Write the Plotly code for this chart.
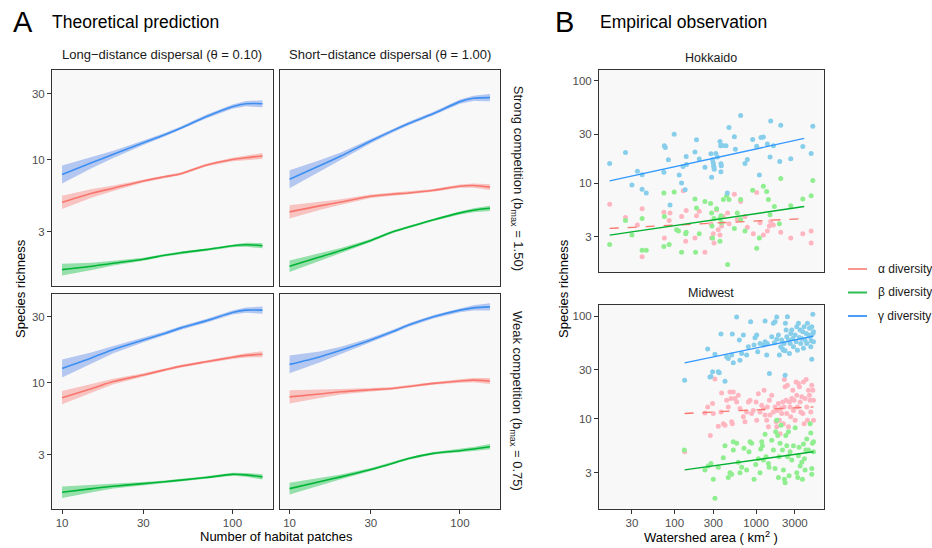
import plotly.graph_objects as go

W, H = 932, 548
FONT = "Liberation Sans, Arial, sans-serif"

# ---------------- Panel A: theoretical prediction ----------------
patches = [10, 15, 20, 30, 40, 50, 70, 100, 120, 150]

# strong competition / long-distance dispersal
sl_alpha = [4.9, 5.7, 6.2, 7.0, 7.5, 7.9, 9.1, 10.0, 10.3, 10.6]
sl_beta = [1.60, 1.69, 1.78, 1.90, 2.03, 2.12, 2.23, 2.38, 2.42, 2.38]
sl_gamma = [7.8, 9.5, 10.9, 13.2, 15.1, 16.9, 20.4, 24.1, 25.3, 25.3]
# strong competition / short-distance dispersal
ss_alpha = [4.18, 4.62, 4.93, 5.42, 5.61, 5.73, 5.99, 6.41, 6.48, 6.31]
ss_beta = [1.69, 1.97, 2.20, 2.60, 2.99, 3.25, 3.67, 4.11, 4.30, 4.44]
ss_gamma = [7.2, 9.0, 10.6, 13.6, 16.1, 18.2, 21.5, 26.2, 27.7, 28.0]
# weak competition / long-distance dispersal
wl_alpha = [7.8, 9.1, 10.2, 11.4, 12.4, 13.2, 14.2, 15.3, 15.8, 16.1]
wl_beta = [1.61, 1.71, 1.78, 1.86, 1.92, 1.97, 2.06, 2.17, 2.15, 2.08]
wl_gamma = [12.7, 15.2, 17.4, 20.4, 22.8, 25.0, 28.1, 32.3, 33.6, 33.6]
# weak competition / short-distance dispersal
ws_alpha = [7.9, 8.3, 8.6, 8.9, 9.1, 9.4, 9.9, 10.3, 10.45, 10.3]
ws_beta = [1.71, 1.92, 2.08, 2.35, 2.60, 2.83, 3.08, 3.22, 3.31, 3.44]
ws_gamma = [13.6, 15.4, 17.2, 20.4, 23.4, 26.2, 30.1, 33.6, 34.9, 35.5]

# confidence band half-widths (log10 units)
alpha_hw = [0.048, 0.030, 0.020, 0.012, 0.010, 0.010, 0.010, 0.012, 0.015, 0.021]
beta_hw = [0.042, 0.026, 0.017, 0.011, 0.009, 0.009, 0.009, 0.011, 0.014, 0.019]
gamma_hw = [0.065, 0.040, 0.026, 0.016, 0.013, 0.013, 0.013, 0.015, 0.019, 0.026]

col_labels = ["Long\u2212distance dispersal (\u03b8 = 0.10)", "Short\u2212distance dispersal (\u03b8 = 1.00)"]
row_labels = ["Strong competition (b<sub>max</sub> = 1.50)", "Weak competition (b<sub>max</sub> = 0.75)"]

# ---------------- Panel B: empirical observation ----------------
# Hokkaido
hk_area_g = [16, 25, 30, 35, 40, 40, 45, 74, 75, 77, 84, 88, 99, 114, 122, 127, 135, 139, 140, 178, 186, 201, 236, 280, 285, 293, 299, 302, 305, 307, 322, 335, 361, 368, 371, 371, 375, 389, 428, 444, 466, 542, 558, 648, 732, 782, 909, 1018, 1099, 1151, 1230, 1377, 1486, 1514, 1633, 1954, 2011, 2667, 3749, 4746, 4977]
hk_gamma = [15.6, 19.9, 9.6, 13.1, 12.1, 8.7, 8.0, 12.8, 23.2, 22.3, 16.9, 6.1, 30.1, 12.0, 10.0, 14.5, 8.6, 18.2, 15.2, 20.2, 26.5, 17.2, 14.3, 19.4, 11.4, 16.9, 15.7, 14.8, 14.3, 13.7, 19.5, 18.0, 25.5, 23.2, 12.9, 15.5, 14.8, 23.3, 23.2, 8.0, 35.0, 28.4, 21.5, 45.8, 15.6, 17.0, 26.7, 23.0, 12.0, 27.9, 28.2, 24.2, 18.0, 40.6, 23.2, 16.3, 36.9, 17.3, 22.8, 19.5, 36.1]
hk_area_b = [16, 25, 30, 40, 40, 45, 74, 74, 75, 86, 99, 106, 112, 122, 137, 139, 178, 181, 186, 201, 236, 277, 285, 288, 293, 305, 328, 361, 361, 371, 378, 397, 436, 448, 466, 542, 589, 648, 648, 732, 909, 1018, 1099, 1230, 1352, 1418, 1486, 1680, 1935, 2011, 2667, 3749, 4746, 4977]
hk_beta = [2.5, 4.3, 3.1, 2.2, 4.5, 2.2, 2.4, 8.0, 4.7, 2.5, 8.2, 3.5, 3.4, 2.1, 3.2, 3.3, 7.0, 2.1, 5.7, 3.2, 6.6, 6.3, 5.1, 3.8, 2.9, 4.5, 5.6, 4.5, 2.7, 4.8, 4.1, 6.9, 7.5, 1.6, 6.9, 3.6, 5.1, 6.9, 4.4, 3.4, 8.5, 2.3, 2.9, 9.3, 8.3, 6.9, 4.9, 5.9, 4.0, 11.1, 6.0, 7.0, 7.5, 10.6]
hk_area_a = [16, 25, 35, 40, 40, 74, 75, 86, 88, 122, 128, 137, 139, 178, 186, 201, 236, 280, 285, 299, 305, 328, 344, 361, 378, 397, 448, 466, 542, 589, 648, 732, 782, 927, 1018, 1120, 1230, 1377, 1459, 1514, 1633, 2011, 2667, 3749, 4746, 4746]
hk_alpha = [6.2, 4.6, 3.9, 5.6, 1.9, 5.2, 2.9, 4.3, 5.1, 4.7, 8.4, 2.7, 5.4, 2.9, 4.8, 5.3, 2.1, 4.0, 2.9, 3.2, 2.6, 5.5, 3.5, 3.1, 3.8, 4.7, 5.1, 4.0, 7.8, 4.4, 6.6, 4.7, 3.7, 3.2, 8.1, 4.1, 3.1, 3.4, 3.8, 4.2, 3.9, 3.3, 2.9, 3.2, 3.4, 2.6]
hk_fit_area = [16, 3900]
hk_fit_alpha = [3.6, 4.5]
hk_fit_beta = [3.1, 5.9]
hk_fit_gamma = [10.5, 27.4]

# Midwest
mw_area_g = [133, 255, 272, 280, 293, 313, 344, 354, 371, 416, 436, 457, 502, 512, 526, 578, 624, 635, 667, 699, 767, 805, 859, 945, 972, 1019, 1048, 1120, 1230, 1291, 1291, 1352, 1377, 1459, 1559, 1633, 1680, 1713, 1795, 1795, 1882, 1935, 2011, 2068, 2128, 2168, 2209, 2274, 2274, 2294, 2339, 2383, 2427, 2500, 2570, 2618, 2667, 2746, 2825, 2878, 3020, 3105, 3162, 3221, 3314, 3411, 3475, 3540, 3640, 3749, 3819, 3891, 4000, 4120, 4198, 4276, 4397, 4525, 4613, 4699, 4746, 4831, 4831, 4977, 4977, 5070, 5070]
mw_gamma = [23.8, 47.7, 25.6, 25.8, 28.7, 42.6, 28.7, 28.1, 66.8, 23.3, 40.2, 38.7, 41.7, 66.8, 35.1, 97.8, 58.4, 37.2, 43.3, 65.3, 41.7, 50.3, 88.0, 52.2, 61.5, 65.3, 44.9, 54.2, 52.2, 89.4, 56.3, 41.7, 54.2, 27.7, 62.9, 84.9, 55.0, 88.0, 97.8, 59.3, 65.3, 41.7, 50.3, 58.4, 47.7, 46.6, 54.2, 45.9, 26.6, 84.9, 73.1, 62.9, 98.5, 58.4, 43.3, 54.2, 67.8, 73.1, 60.6, 50.3, 65.3, 56.3, 78.8, 46.6, 84.9, 62.0, 73.1, 54.2, 60.6, 70.4, 48.5, 78.8, 58.4, 67.8, 54.2, 84.9, 65.3, 75.9, 62.9, 50.3, 57.5, 38.1, 78.8, 104.0, 67.8, 56.3, 70.4]
mw_area_a = [133, 236, 255, 275, 293, 299, 313, 344, 371, 378, 397, 416, 436, 457, 479, 493, 502, 512, 526, 552, 578, 606, 635, 699, 732, 767, 805, 844, 884, 927, 1000, 1019, 1068, 1120, 1175, 1230, 1254, 1291, 1352, 1377, 1418, 1459, 1486, 1559, 1633, 1713, 1762, 1795, 1829, 1882, 1935, 1972, 2011, 2068, 2128, 2168, 2209, 2229, 2274, 2339, 2383, 2427, 2500, 2570, 2618, 2667, 2746, 2825, 2878, 2932, 3020, 3105, 3162, 3221, 3314, 3411, 3475, 3540, 3640, 3749, 3819, 3891, 4000, 4120, 4198, 4276, 4397, 4525, 4613, 4699, 4831, 4977, 5070, 5070]
mw_alpha = [4.8, 11.4, 13.1, 6.9, 14.1, 11.3, 24.5, 8.5, 11.7, 17.9, 9.0, 8.7, 15.2, 13.1, 18.3, 15.8, 9.4, 9.0, 18.3, 15.8, 14.6, 17.0, 12.6, 10.5, 9.4, 11.7, 14.6, 15.2, 11.3, 12.1, 14.6, 9.7, 17.6, 11.7, 13.6, 12.6, 19.0, 10.9, 9.7, 13.1, 8.4, 15.2, 10.9, 17.0, 11.7, 13.1, 9.4, 8.4, 12.1, 14.1, 9.7, 7.2, 12.6, 11.3, 14.6, 9.0, 13.1, 24.2, 20.5, 15.2, 11.3, 21.3, 8.4, 14.6, 13.1, 10.5, 15.8, 19.0, 12.1, 15.2, 9.7, 22.9, 17.0, 13.1, 22.1, 20.5, 14.6, 11.7, 16.4, 11.3, 22.9, 9.0, 15.8, 24.2, 13.1, 9.7, 19.0, 17.0, 15.2, 11.7, 21.3, 19.0, 9.7, 15.2]
mw_area_b = [132, 236, 259, 280, 299, 313, 344, 397, 416, 457, 479, 502, 526, 526, 578, 606, 635, 667, 712, 767, 820, 844, 884, 945, 991, 1068, 1120, 1141, 1175, 1197, 1230, 1291, 1328, 1418, 1445, 1559, 1633, 1713, 1746, 1795, 1846, 1882, 1918, 1972, 2029, 2108, 2168, 2229, 2274, 2317, 2383, 2449, 2500, 2547, 2618, 2746, 2878, 3020, 3162, 3252, 3314, 3378, 3475, 3640, 3711, 3819, 3926, 4000, 4080, 4198, 4397, 4613, 4699, 4831, 4831, 4929, 5070, 5070]
mw_beta = [5.0, 3.2, 3.5, 3.7, 2.6, 1.7, 3.4, 4.2, 5.5, 2.7, 3.0, 2.9, 6.0, 5.0, 5.8, 3.8, 3.0, 3.4, 5.2, 3.2, 4.8, 6.0, 5.8, 2.6, 3.6, 4.1, 3.0, 5.1, 6.0, 5.5, 4.0, 7.1, 4.3, 3.7, 3.4, 6.2, 5.0, 3.3, 7.5, 9.7, 6.9, 2.7, 4.3, 5.8, 8.7, 5.0, 3.2, 2.6, 2.4, 6.9, 5.5, 4.3, 7.5, 2.8, 4.8, 4.0, 5.5, 8.2, 3.0, 2.7, 4.4, 5.3, 3.5, 3.8, 2.6, 5.7, 4.1, 3.2, 5.0, 6.4, 5.0, 9.0, 7.3, 3.3, 2.9, 5.8, 6.0, 4.8]
mw_fit_area = [133, 5070]
mw_fit_alpha = [11.3, 13.1]
mw_fit_beta = [3.2, 4.8]
mw_fit_gamma = [35.1, 63.8]

# tick labels
A_x_ticks = [10, 30, 100]
A_y_ticks = [3, 10, 30]
B_x_ticks = [30, 100, 300, 1000, 3000]
B_y_ticks = [3, 10, 30, 100]

# ---------------- styling ----------------
LINE = {"alpha": "#F8766D", "beta": "#00B536", "gamma": "#3D8FF2"}
BAND = {"alpha": "rgba(248,118,109,0.40)", "beta": "rgba(0,186,56,0.40)", "gamma": "rgba(97,140,230,0.45)"}
PT = {"alpha": "#FFB6C1", "beta": "#90EE90", "gamma": "#87CEEB"}
LEG = {"alpha": "#F8978F", "beta": "#2CBF55", "gamma": "#4A9EF5"}


def dx(p):
    return p / W


def dy(p):
    return 1 - p / H


fig = go.Figure()

A_cols = [(52, 272.5), (279.5, 500)]
A_rows = [(70, 285.5), (293.5, 508.5)]
A_series = [
    [(sl_alpha, sl_beta, sl_gamma), (ss_alpha, ss_beta, ss_gamma)],
    [(wl_alpha, wl_beta, wl_gamma), (ws_alpha, ws_beta, ws_gamma)],
]
hws = {"alpha": alpha_hw, "beta": beta_hw, "gamma": gamma_hw}

layout_axes = {}


def axis_common(show, ticks):
    tv = ticks if show else []
    return dict(type="log", showgrid=False, zeroline=False, showline=True, linecolor="#333333",
                linewidth=1, mirror=True, ticks="outside" if show else "", ticklen=4,
                tickcolor="#333333", tickwidth=1, showticklabels=show,
                tickmode="array", tickvals=tv, ticktext=[str(t) for t in tv],
                tickfont=dict(family=FONT, size=11.5, color="#4D4D4D"))


idx = 0
for r in range(2):
    for c in range(2):
        idx += 1
        xa = "x" if idx == 1 else f"x{idx}"
        ya = "y" if idx == 1 else f"y{idx}"
        xkey = "xaxis" if idx == 1 else f"xaxis{idx}"
        ykey = "yaxis" if idx == 1 else f"yaxis{idx}"
        xd = dict(axis_common(r == 1, A_x_ticks), domain=[dx(A_cols[c][0]), dx(A_cols[c][1])],
                  range=[0.941, 2.235], anchor=ya)
        yd = dict(axis_common(c == 0, A_y_ticks), domain=[dy(A_rows[r][1]), dy(A_rows[r][0])],
                  range=[0.089, 1.647], anchor=xa)
        layout_axes[xkey] = xd
        layout_axes[ykey] = yd
        for name, vals in zip(["alpha", "beta", "gamma"], A_series[r][c]):
            hw = hws[name]
            upper = [v * 10 ** h for v, h in zip(vals, hw)]
            lower = [v / 10 ** h for v, h in zip(vals, hw)]
            fig.add_trace(go.Scatter(x=patches + patches[::-1], y=upper + lower[::-1], fill="toself",
                                     fillcolor=BAND[name], line=dict(width=0), mode="lines",
                                     hoverinfo="skip", showlegend=False, xaxis=xa, yaxis=ya))
        for name, vals in zip(["alpha", "beta", "gamma"], A_series[r][c]):
            fig.add_trace(go.Scatter(x=patches, y=vals, mode="lines",
                                     line=dict(color=LINE[name], width=1.6, shape="spline", smoothing=0.8),
                                     showlegend=False, xaxis=xa, yaxis=ya))

# Panel B axes
B_x = (599, 823.5)
B_rows = [(70, 272), (305, 508.5)]
B_data = [
    (hk_area_a, hk_alpha, hk_area_b, hk_beta, hk_area_g, hk_gamma, hk_fit_area, hk_fit_alpha, hk_fit_beta, hk_fit_gamma),
    (mw_area_a, mw_alpha, mw_area_b, mw_beta, mw_area_g, mw_gamma, mw_fit_area, mw_fit_alpha, mw_fit_beta, mw_fit_gamma),
]
for k in range(2):
    idx = 5 + k
    xa, ya = f"x{idx}", f"y{idx}"
    layout_axes[f"xaxis{idx}"] = dict(axis_common(k == 1, B_x_ticks), domain=[dx(B_x[0]), dx(B_x[1])],
                                      range=[1.073, 3.828], anchor=ya)
    layout_axes[f"yaxis{idx}"] = dict(axis_common(True, B_y_ticks), domain=[dy(B_rows[k][1]), dy(B_rows[k][0])],
                                      range=[0.13, 2.107], anchor=xa)
    aa, av, ba, bv, ga, gv, fa, fal, fbe, fga = B_data[k]
    for xs, ys, name in [(aa, av, "alpha"), (ba, bv, "beta"), (ga, gv, "gamma")]:
        fig.add_trace(go.Scatter(x=xs, y=ys, mode="markers", marker=dict(color=PT[name], size=5, line=dict(width=0)),
                                 showlegend=False, xaxis=xa, yaxis=ya))
    fig.add_trace(go.Scatter(x=fa, y=fal, mode="lines", line=dict(color="#F8766D", width=1.3, dash="dash"),
                             showlegend=False, xaxis=xa, yaxis=ya))
    fig.add_trace(go.Scatter(x=fa, y=fbe, mode="lines", line=dict(color="#00B030", width=1.4),
                             showlegend=False, xaxis=xa, yaxis=ya))
    fig.add_trace(go.Scatter(x=fa, y=fga, mode="lines", line=dict(color="#3399FF", width=1.4),
                             showlegend=False, xaxis=xa, yaxis=ya))

ann = []


def text(x, y, s, size, color="#000000", xanchor="center", angle=0):
    ann.append(dict(x=dx(x), y=dy(y), xref="paper", yref="paper", text=s, showarrow=False,
                    xanchor=xanchor, yanchor="middle", textangle=angle,
                    font=dict(family=FONT, size=size, color=color)))


text(11, 22, "A", 29, xanchor="left")
text(50, 22, "Theoretical prediction", 17.5, xanchor="left")
text(553, 22, "B", 29, xanchor="left")
text(598, 22, "Empirical observation", 17.5, xanchor="left")

for c in range(2):
    text((A_cols[c][0] + A_cols[c][1]) / 2, 54, col_labels[c], 13, "#1A1A1A")
for r in range(2):
    text(517, (A_rows[r][0] + A_rows[r][1]) / 2, row_labels[r], 13, "#1A1A1A", angle=90)

text((B_x[0] + B_x[1]) / 2, 58, "Hokkaido", 12.5, "#1A1A1A")
text((B_x[0] + B_x[1]) / 2, 293, "Midwest", 12.5, "#1A1A1A")

text(20, 289, "Species richness", 13, angle=-90)
text(563, 289, "Species richness", 13, angle=-90)
text(276, 536, "Number of habitat patches", 13)
text(711, 537, "Watershed area ( km<sup>2</sup> )", 13)

shapes = []
leg_items = [("alpha", "\u03b1 diversity", 269), ("beta", "\u03b2 diversity", 292.5), ("gamma", "\u03b3 diversity", 316)]
for name, lab, yy in leg_items:
    shapes.append(dict(type="line", xref="paper", yref="paper", x0=dx(848), x1=dx(867), y0=dy(yy), y1=dy(yy),
                       line=dict(color=LEG[name], width=2)))
    text(876, yy, lab, 12, "#1A1A1A", xanchor="left")

fig.update_layout(width=W, height=H, margin=dict(l=0, r=0, t=0, b=0), paper_bgcolor="white",
                  plot_bgcolor="#F8F8F8", showlegend=False, annotations=ann, shapes=shapes,
                  font=dict(family=FONT), **layout_axes)

fig.write_html("out.html", config={"displayModeBar": False},
               post_script="document.body.style.margin='0px';document.body.style.overflow='hidden';")
